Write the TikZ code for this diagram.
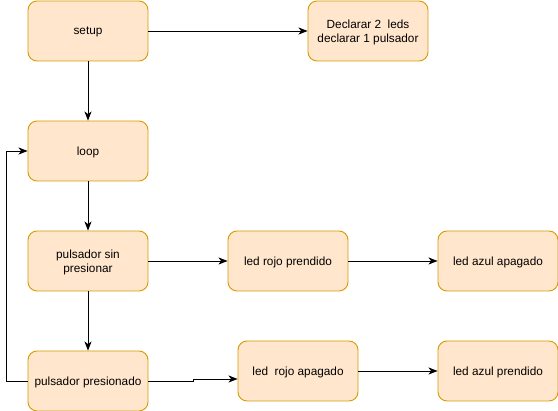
\documentclass[tikz,border=0pt]{standalone}
\usepackage{fontspec}
\setmainfont{Liberation Sans}
\usepackage{xcolor}
\usetikzlibrary{arrows.meta, positioning, calc}
\definecolor{BoxFill}{HTML}{FFE6CC}
\definecolor{BoxLine}{HTML}{D79B00}
\tikzset{
  stepbox/.style={draw=BoxLine, fill=BoxFill, rounded corners=9pt, line width=0.9pt,
    minimum width=120pt, minimum height=60pt, inner sep=0pt, align=center,
    text depth=0pt, font=\fontsize{11.8}{14.5}\selectfont},
  flow/.style={-{Stealth[length=9pt,width=7pt,inset=2.5pt]}, line width=0.9pt}
}
\begin{document}
\begin{tikzpicture}[x=1pt,y=-1pt]
        \useasboundingbox (0,0) rectangle (558,411);
        % main column
        \node[stepbox] (setup) at (88,31) {setup};
        \node[stepbox] (loop) at (88,151) {loop};
        \node[stepbox] (sinpres) at (88,261) {pulsador sin\\presionar};
        \node[stepbox] (pres) at (88,381) {pulsador presionado};
        % right side
        \node[stepbox] (decl) at (368,31) {Declarar 2\ \ leds\\declarar 1 pulsador};
        \node[stepbox] (rojoon) at (288,261) {led rojo prendido};
        \node[stepbox] (azuloff) at (498,261) {led azul apagado};
        \node[stepbox] (rojooff) at (298,371) {led\ \ rojo apagado};
        \node[stepbox] (azulon) at (498,371) {led azul prendido};
        % connectors
        \draw[flow] (setup) -- (decl);
        \draw[flow] (setup) -- (loop);
        \draw[flow] (loop) -- (sinpres);
        \draw[flow] (sinpres) -- (pres);
        \draw[flow] (sinpres) -- (rojoon);
        \draw[flow] (rojoon) -- (azuloff);
        \draw[flow] (rojooff) -- (azulon);
        \draw[flow] (pres.east) -- ++(45,0) |- ($(rojooff.west)+(0,8)$);
        \draw[flow] (pres.west) -- ++(-21,0) |- (loop.west);
      \end{tikzpicture}
\end{document}
